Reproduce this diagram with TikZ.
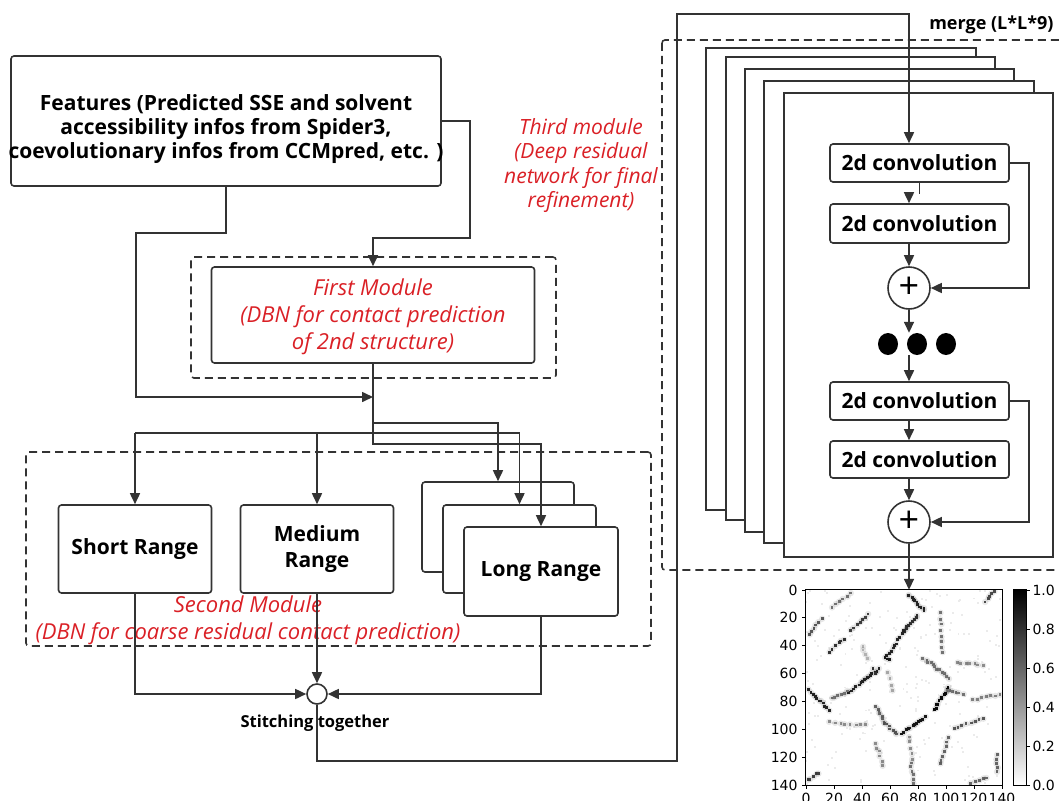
\documentclass[tikz,border=0pt]{standalone}
\usepackage{fontspec}
\setmainfont{Open Sans}
\newfontfamily\plotfont{DejaVu Sans}
\usetikzlibrary{arrows.meta,calc}
\definecolor{lc}{RGB}{51,51,51}
\definecolor{modred}{RGB}{218,32,38}

% one dotted streak of the contact map: from (x1,y1) to (x2,y2), n steps, darkness
\newcommand\cmstreak[6]{%
  \foreach \k in {0,...,#5}{%
    \pgfmathsetmacro\px{#1+(#3-#1)*\k/#5+rand*0.8}%
    \pgfmathsetmacro\py{#2+(#4-#2)*\k/#5+rand*0.8}%
    \fill[black,opacity=0.09] (\px,\py) circle[radius=2.3];
    \fill[black!#6] ({\px-1.0},{\py-1.0}) rectangle ({\px+1.0},{\py+1.0});
  }}

\begin{document}
\begin{tikzpicture}[x=1pt,y=-1pt,
  conn/.style={draw=lc,line width=1.6pt},
  arrw/.style={conn,-{Triangle[length=11pt,width=10pt]}},
  box/.style={draw=lc,line width=1.6pt,rounded corners=3pt,fill=white,inner sep=0pt,align=center},
  dbox/.style={draw=lc,line width=1.6pt,dash pattern=on 8pt off 5pt,rounded corners=3pt,inner sep=0pt},
  btxt/.style={font=\fontsize{21}{26}\selectfont\bfseries,align=center},
  rtxt/.style={text=modred,font=\fontsize{22}{27}\selectfont\itshape,align=center},
  convbox/.style={box,btxt,minimum width=179pt,minimum height=38pt},
  sumnode/.style={circle,draw=lc,line width=1.6pt,fill=white,minimum size=42pt,inner sep=0pt,font=\fontsize{36}{36}\selectfont},
  layer/.style={draw=lc,line width=1.6pt,fill=white},
  plt/.style={font=\plotfont\fontsize{14}{16}\selectfont},
  ]
\useasboundingbox (0,0) rectangle (1059,800);

% ---------- features ----------
\node[box,minimum width=430pt,minimum height=130pt] (feat) at (226,121) {};
\node[font=\fontsize{21}{24}\selectfont\bfseries,align=center] (feattxt) at (226,129) {Features (Predicted SSE and solvent\\accessibility infos from Spider3,\\coevolutionary infos from CCMpred, etc. )};

% ---------- first module ----------
\node[dbox,minimum width=365pt,minimum height=121pt] (fmout) at (373.5,317.5) {};
\node[box,minimum width=323pt,minimum height=96pt] (fmin) at (373,315) {};
\node[rtxt] (fmtxt) at (373,317) {First Module\\(DBN for contact prediction\\of 2nd structure)};

% ---------- second module ----------
\node[dbox,minimum width=625pt,minimum height=194pt] (smout) at (338.5,549) {};
\node[rtxt] (smtxt) at (248,620.5) {Second Module\\(DBN for coarse residual contact prediction)};
\node[box,btxt,minimum width=153pt,minimum height=88pt] (sr) at (135,549) {Short Range};
\node[box,btxt,minimum width=153pt,minimum height=88pt] (mr) at (317,549) {Medium\\Range};
\node[box,minimum width=152pt,minimum height=90pt] (lr1) at (498,527) {};
\node[box,minimum width=153pt,minimum height=88pt] (lr2) at (519.5,549) {};
\node[box,btxt,minimum width=154pt,minimum height=89pt] (lr3) at (541,571.5) {Long Range};

\node[circle,draw=lc,line width=1.6pt,fill=white,minimum size=20pt,inner sep=0pt] (st) at (317,694) {};
\node[font=\fontsize{16.5}{18}\selectfont\bfseries] (sttxt) at (315,723) {Stitching together};

% ---------- third module ----------
\node[text=modred,font=\fontsize{21}{24.5}\selectfont\itshape,align=center] (tmtxt) at (581,165.5) {Third module\\(Deep residual\\network for final\\refinement)};
\draw[dbox] (662,40) rectangle (1075,570);
\foreach \l/\t/\r/\b in {706/48/976/510, 726/57/995/520, 745/69/1014/532, 764/81/1034/543, 784/93/1053/557}
  \draw[layer] (\l,\t) rectangle (\r,\b);
\node[font=\fontsize{18}{20}\selectfont\bfseries,anchor=east] (mergetxt) at (1057,25) {merge (L*L*9)};

\node[convbox] (c1) at (919.5,163) {2d convolution};
\node[convbox,minimum height=39pt] (c2) at (919.5,223.5) {2d convolution};
\node[sumnode] (p1) at (909,288) {+};
\node[minimum width=80pt,minimum height=22pt,inner sep=0pt] (dots) at (917,344) {};
\foreach \dx in {888,917,946} \fill[black] (\dx,344) ellipse (10pt and 11pt);
\node[convbox] (c3) at (919.5,401) {2d convolution};
\node[convbox,minimum height=37pt] (c4) at (919.5,459.5) {2d convolution};
\node[sumnode] (p2) at (909,522) {+};

% ---------- contact map ----------
\node[fill=white,minimum width=196pt,minimum height=195pt,inner sep=0pt] (hm) at (904,687.5) {};
\begin{scope}
  \clip (806,590) rectangle (1002,785);
  \begin{scope}[shift={(806,590)},xscale=1.4,yscale=1.393]
    \pgfmathsetseed{11}
    \foreach \i in {1,...,220}{%
      \pgfmathsetmacro\rx{rnd*140}\pgfmathsetmacro\ry{rnd*140}%
      \fill[black!8] ({\rx-0.7},{\ry-0.7}) rectangle ({\rx+0.7},{\ry+0.7});}
    \foreach \xa/\ya/\xb/\yb/\nn/\ss in {
      73/3/85/15/10/85, 80/18/70/30/8/80, 70/30/58/48/9/85, 57/48/60/50/2/90,
      52/57/42/64/7/85, 42/64/31/73/7/85,
      48/57/50/59/1/80, 2/72/16/86/10/85, 18/78/30/73/5/55, 50/84/56/95/6/60, 56/95/65/103/6/65,
      69/103/85/91/11/90, 84/49/102/63/11/55, 102/69/92/86/11/95, 96/17/98/45/7/55,
      16/44/28/35/5/80, 2/32/11/21/5/65, 32/29/45/18/6/75, 19/12/32/3/5/55,
      128/8/135/1/4/70, 106/99/127/93/7/65, 96/125/101/106/6/60, 50/110/55/126/5/45,
      1/137/9/131/4/75, 118/139/129/135/4/60, 119/79/138/75/6/50, 100/72/112/75/5/55,
      108/52/126/54/6/45, 136/118/137/130/4/60, 75/124/77/139/5/55, 74/105/76/122/4/45,
      17/95/43/97/7/45, 59/60/62/72/3/35, 40/40/44/50/3/30}
      {\cmstreak{\xa}{\ya}{\xb}{\yb}{\nn}{\ss}}
  \end{scope}
\end{scope}
\draw[black,line width=0.8pt] (hm.north west) rectangle (hm.south east);
\foreach \v in {0,20,...,140}{%
  \draw[black,line width=0.8pt] (806,{590+\v*1.393}) -- ++(-4,0);
  \node[plt,anchor=east] at (801,{590+\v*1.393}) {\v};
  \draw[black,line width=0.8pt] ({806+\v*1.4},785) -- ++(0,4);
  \node[plt,anchor=north] at ({806+\v*1.4},790) {\v};}
\node[inner sep=0pt,minimum width=12pt,minimum height=195pt] (cbar) at (1020,687.5) {};
\shade[top color=black,bottom color=white] (cbar.north west) rectangle (cbar.south east);
\draw[black,line width=0.8pt] (cbar.north west) rectangle (cbar.south east);
\foreach \v/\s in {0/0.0,0.2/0.2,0.4/0.4,0.6/0.6,0.8/0.8,1/1.0}{%
  \draw[black,line width=0.8pt] (1026,{785-\v*195}) -- ++(4,0);
  \node[plt,anchor=west] at (1029,{785-\v*195}) {\s};}

% ---------- connectors ----------
\coordinate (colx) at (909,0);
\coordinate (jn) at (373,397);
\coordinate (b1) at (373,423);
\coordinate (b2) at (373,433);
\coordinate (b3) at (373,444);

\draw[arrw] (feat.east) -- (470,121) |- (373,238) -- (fmin.north);
\draw[arrw] (feat.south) -- ++(0,46) -| (136,397) -- (jn);
\draw[arrw] (fmin.south) -- (b3) -| (lr3.north);
\draw[arrw] (b1) -| (lr1.north);
\draw[conn] (sr.north |- b2) -- (lr2.north |- b2);
\draw[arrw] (sr.north |- b2) -- (sr.north);
\draw[arrw] (mr.north |- b2) -- (mr.north);
\draw[arrw] (lr2.north |- b2) -- (lr2.north);

\draw[arrw] (sr.south) |- (st.west);
\draw[arrw] (mr.south) -- (st.north);
\draw[arrw] (lr3.south) |- (st.east);
\draw[arrw] (st.south) -- ++(0,56) -| (677,14) -| (c1.north -| colx);

\draw[conn] (c1.south) -- ++(0,11);
\draw[arrw] ($(c1.south -| colx)+(0,11)$) -- (c2.north -| colx);
\draw[arrw] (c2.south -| colx) -- (p1.north);
\draw[arrw] (c1.east) -- ++(19,0) |- (p1.east);
\draw[arrw] (p1.south) -- (p1.south |- dots.north);
\draw[arrw] (p1.south |- dots.south) -- (c3.north -| colx);
\draw[arrw] (c3.south -| colx) -- (c4.north -| colx);
\draw[arrw] (c4.south -| colx) -- (p2.north);
\draw[arrw] (c3.east) -- ++(19,0) |- (p2.east);
\draw[arrw] (p2.south) -- (hm.north -| colx);
\end{tikzpicture}
\end{document}
